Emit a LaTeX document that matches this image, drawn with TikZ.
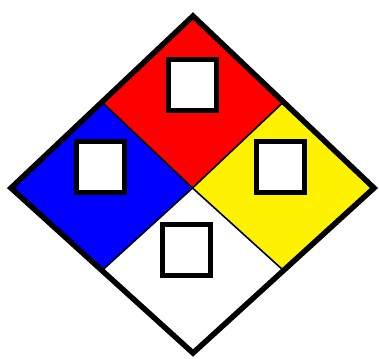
\documentclass[tikz,border=0pt]{standalone}
\usepackage{tikz}
\usetikzlibrary{calc}
\tikzset{
    panel/.style={draw=black, line width=1.6pt},
    rim/.style={draw=black, line width=5.5pt, line join=miter},
    box/.style={rectangle, draw=black, fill=white, line width=5pt, minimum width=48pt, minimum height=51pt, inner sep=0pt}
}
\begin{document}
\begin{tikzpicture}[x=1pt, y=-1pt]
    \useasboundingbox (0,0) rectangle (379,358);
    % corners of the diamond
    \coordinate (top) at (193,16);
    \coordinate (left) at (11,188);
    \coordinate (right) at (374,188);
    \coordinate (bottom) at (193,353);
    \coordinate (tl) at ($(top)!0.5!(left)$);
    \coordinate (tr) at ($(top)!0.5!(right)$);
    \coordinate (bl) at ($(bottom)!0.5!(left)$);
    \coordinate (br) at ($(bottom)!0.5!(right)$);
    \coordinate (mid) at ($(tl)+(tr)-(top)$);

    % the four quarters
    \fill[red] (top) -- (tr) -- (mid) -- (tl) -- cycle;
    \fill[blue] (left) -- (tl) -- (mid) -- (bl) -- cycle;
    \fill[yellow] (right) -- (tr) -- (mid) -- (br) -- cycle;
    \fill[white] (bottom) -- (bl) -- (mid) -- (br) -- cycle;
    \draw[panel] (tl) -- (mid) -- (br);
    \draw[panel] (tr) -- (mid) -- (bl);
    \draw[rim] (top) -- (right) -- (bottom) -- (left) -- cycle;

    \node (flam) [box] at (192.5,85) {};
    \node (health) [box] at (100,167) {};
    \node (react) [box] at (280,167) {};
    \node (special) [box] at (186.5,249.5) {};
\end{tikzpicture}
\end{document}
